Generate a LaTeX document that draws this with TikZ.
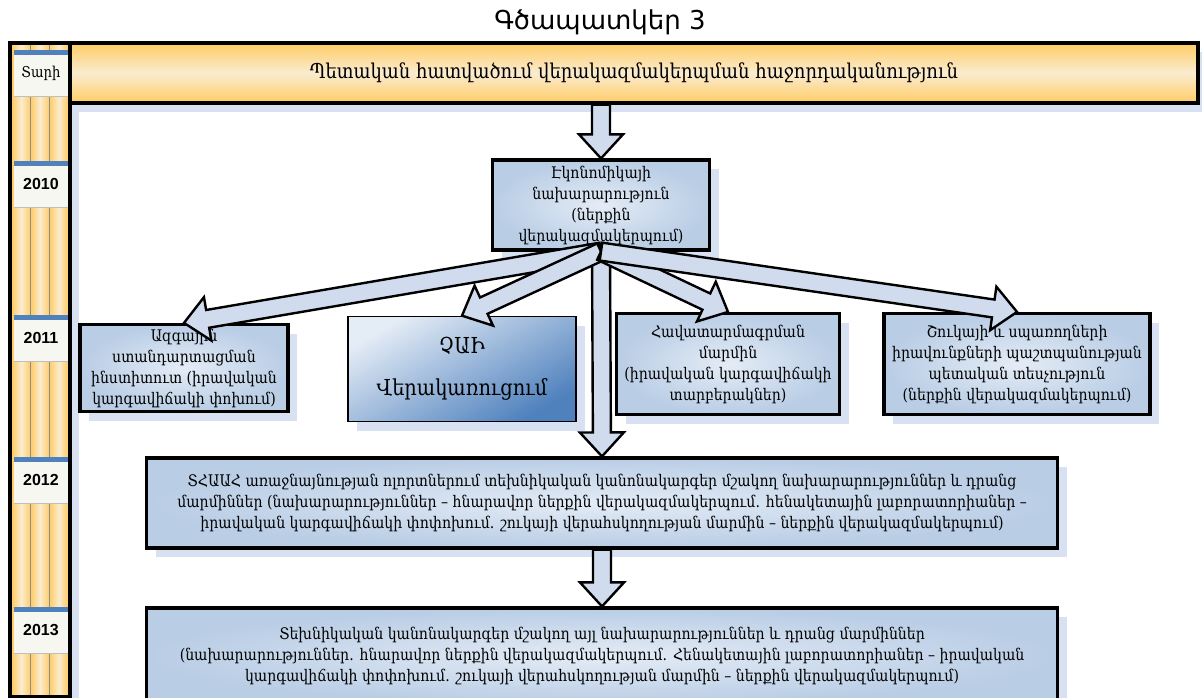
\documentclass[tikz,border=0pt]{standalone}
\usepackage{fontspec}
\setmainfont{DejaVu Serif}[FakeStretch=0.88]
\setsansfont{DejaVu Sans}
\newfontfamily\yearfont{Liberation Sans}
\usetikzlibrary{positioning,calc,shadows}

\definecolor{boxblue}{RGB}{185,205,229}
\definecolor{boxlight}{RGB}{228,236,246}
\definecolor{bannerorange}{RGB}{255,204,102}
\definecolor{bannerlight}{RGB}{250,236,208}
\definecolor{shadowblue}{RGB}{215,225,241}
\definecolor{bandblue}{RGB}{79,129,189}
\definecolor{yearwhite}{RGB}{247,247,241}
\definecolor{arrowblue}{RGB}{208,220,238}

\newcommand{\blockarrow}[2]{%
  \coordinate (ahead) at ($(#2)!12pt!(#1)$);
  \draw[barrow] ($(#1)!4.5pt!90:(#2)$) -- ($(ahead)!4.5pt!90:(#2)$) -- ($(ahead)!11pt!90:(#2)$) -- (#2)
    -- ($(ahead)!11pt!-90:(#2)$) -- ($(ahead)!4.5pt!-90:(#2)$) -- ($(#1)!4.5pt!-90:(#2)$) -- cycle;
}

\begin{document}
\begin{tikzpicture}[x=0.5pt,y=0.5pt,node distance=76.5pt,on grid,
  blueshadow/.style={drop shadow={shadow xshift=4.5pt,shadow yshift=-4.5pt,fill=shadowblue,opacity=1}},
  unitbox/.style={draw,line width=1.6pt,blueshadow,inner color=boxlight,outer color=boxblue,
    align=center,inner sep=2pt,font=\fontsize{8}{10.5}\selectfont},
  barrow/.style={draw,line width=1.2pt,fill=arrowblue,line join=miter},
  yearlabel/.style={fill=yearwhite,minimum width=27pt,minimum height=23pt,inner sep=0pt,
    font=\yearfont\bfseries\fontsize{8}{9}\selectfont}]
  \useasboundingbox (0,0) rectangle (1202,-697);

  \node[font=\sffamily\fontsize{13}{15}\selectfont] (title) at (600,-22) {Գծապատկեր 3};

  \node[draw,line width=1.6pt,blueshadow,fill=bannerorange,minimum width=30pt,minimum height=327pt,
    inner sep=0pt,outer sep=0pt] (timeline) at (40,-370) {};
  \foreach \i in {0,1,2}
    \shade[left color=bannerorange,right color=bannerorange,middle color=bannerlight]
      ($(timeline.north west)+(2+\i*18.7,-2)$) rectangle ($(timeline.south west)+(20.7+\i*18.7,2)$);
  \foreach \i in {1,2}
    \draw[black!45,thin] ($(timeline.north west)+(2+\i*18.7,0)$) -- ($(timeline.south west)+(2+\i*18.7,0)$);
  \draw[line width=1.6pt] (timeline.north west) rectangle (timeline.south east);

  \node[draw,line width=1.6pt,blueshadow,top color=bannerorange,bottom color=bannerorange,middle color=bannerlight,
    minimum width=564pt,minimum height=30pt,font=\fontsize{10.2}{12}\selectfont] (banner) at (634,-73)
    {Պետական հատվածում վերակազմակերպման հաջորդականություն};

  \node[yearlabel,font=\fontsize{7.5}{9}\selectfont] (yhead) at (41,-73) {Տարի};
  \foreach \yr/\ypos in {2010/184,2011/338,2012/480,2013/630}
    \node[yearlabel] (y\yr) at (41,-\ypos) {\yr};
  \foreach \n in {yhead,y2010,y2011,y2012,y2013}{
    \fill[bandblue] (\n.north west) rectangle ([yshift=-2.5pt]\n.north east);
    \draw[black!25] (\n.south west) -- (\n.south east);
  }

  \node[unitbox,minimum width=108.5pt,minimum height=45pt] (econ) at (601,-205)
    {Էկոնոմիկայի\\նախարարություն\\(ներքին\\վերակազմակերպում)};
  \node[unitbox,minimum width=104pt,minimum height=43.5pt] (inst) at (184,-368)
    {Ազգային\\ստանդարտացման\\ինստիտուտ (իրավական\\կարգավիճակի փոխում)};
  \node[draw,line width=0.8pt,blueshadow,shading=axis,top color=boxlight,bottom color=bandblue,shading angle=30,
    minimum width=114pt,minimum height=52.5pt,align=center,font=\fontsize{11}{21}\selectfont] (chai) at (462,-369)
    {ՉԱԻ\\Վերակառուցում};
  \node[unitbox,minimum width=111.5pt,minimum height=50.5pt] (accr) at (728,-364)
    {Հավատարմագրման\\մարմին\\(իրավական կարգավիճակի\\տարբերակներ)};
  \node[unitbox,minimum width=133pt,minimum height=50.5pt] (cons) at (1017,-364)
    {Շուկայի և սպառողների\\իրավունքների պաշտպանության\\պետական տեսչություն\\(ներքին վերակազմակերպում)};

  \node[unitbox,minimum width=455.5pt,minimum height=45pt] (y12box) at (602,-503)
    {ՏՀԱԱՀ առաջնայնության ոլորտներում տեխնիկական կանոնակարգեր մշակող նախարարություններ և դրանց\\
     մարմիններ (նախարարություններ – հնարավոր ներքին վերակազմակերպում. հենակետային լաբորատորիաներ –\\
     իրավական կարգավիճակի փոփոխում. շուկայի վերահսկողության մարմին – ներքին վերակազմակերպում)};
  \node[unitbox,minimum width=455.5pt,minimum height=48pt] (y13box) [below=of y12box]
    {Տեխնիկական կանոնակարգեր մշակող այլ նախարարություններ և դրանց մարմիններ\\
     (նախարարություններ. հնարավոր ներքին վերակազմակերպում. Հենակետային լաբորատորիաներ – իրավական\\
     կարգավիճակի փոփոխում. շուկայի վերահսկողության մարմին – ներքին վերակազմակերպում)};

  \coordinate (bannerfoot) at (banner.south -| econ.north);
  \blockarrow{bannerfoot}{econ.north}
  \blockarrow{econ.south}{y12box.north}
  \blockarrow{econ.south}{inst.north}
  \blockarrow{econ.south}{chai.north}
  \blockarrow{econ.south}{accr.north}
  \blockarrow{econ.south}{cons.north}
  \blockarrow{y12box.south}{y13box.north}
\end{tikzpicture}
\end{document}
